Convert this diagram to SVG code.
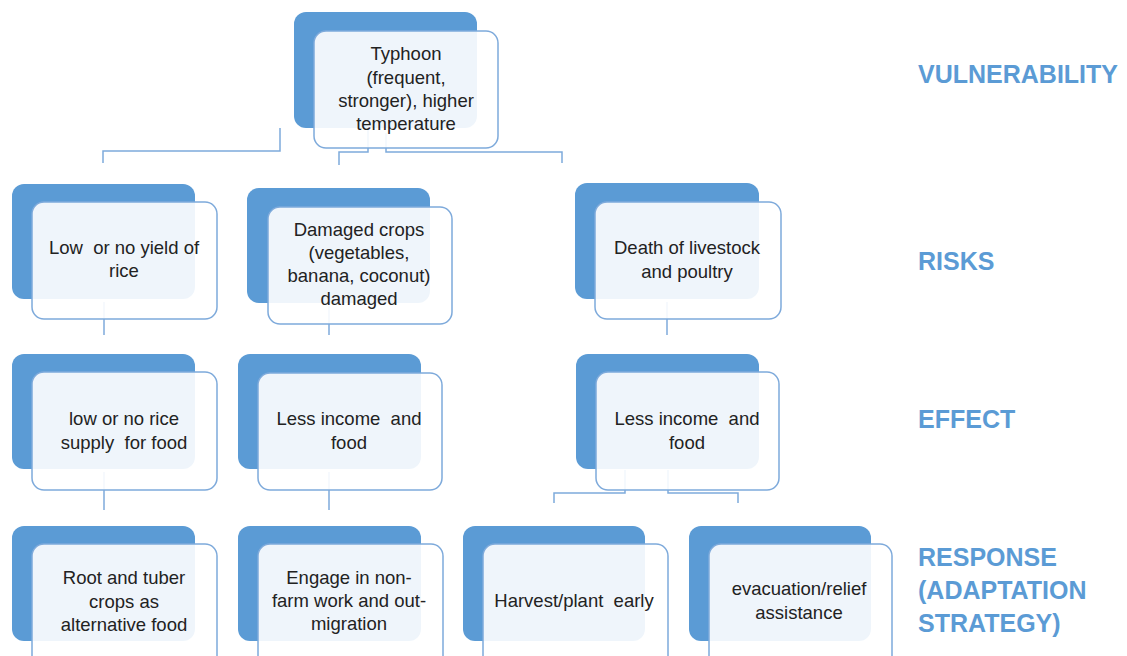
<svg xmlns="http://www.w3.org/2000/svg" width="1127" height="656" viewBox="0 0 1127 656" xml:space="preserve">
<style>
.back{fill:#5B9BD5;}
.front{fill:#FFFFFF;fill-opacity:0.9;stroke:#7EAADB;stroke-width:1.5;}
.t{font-family:"Liberation Sans",Arial,sans-serif;font-size:18.5px;fill:#222222;text-anchor:middle;white-space:pre;}
.lbl{font-family:"Liberation Sans",Arial,sans-serif;font-size:25px;font-weight:bold;fill:#5B9BD5;}
.c{fill:none;stroke:#7EAADB;stroke-width:1.5;}
</style>
<rect width="1127" height="656" fill="#FFFFFF"/>
<g id="connectors">
<path class="c" d="M280,128 V151 H103 V163"/>
<path class="c" d="M368,130 V152 H339 V165"/>
<path class="c" d="M386,133 V152 H562 V163"/>
<path class="c" d="M104,302 V335"/>
<path class="c" d="M329,306 V335"/>
<path class="c" d="M667,302 V335"/>
<path class="c" d="M104,472 V510"/>
<path class="c" d="M329,472 V510"/>
<path class="c" d="M625,470 V493 H554 V503"/>
<path class="c" d="M668,470 V493 H738 V503"/>
</g>
<g id="n-typhoon">
<rect class="back" x="294" y="12" width="183" height="116" rx="12"/>
<rect class="front" x="314" y="31" width="184" height="117" rx="12"/>
<text class="t" x="406" y="60">Typhoon</text>
<text class="t" x="406" y="84">(frequent,</text>
<text class="t" x="406" y="107">stronger), higher</text>
<text class="t" x="406" y="130">temperature</text>
</g>
<g id="n-lowyield">
<rect class="back" x="12" y="184" width="183" height="115" rx="12"/>
<rect class="front" x="32" y="202" width="185" height="117" rx="12"/>
<text class="t" x="124" y="254">Low  or no yield of</text>
<text class="t" x="124" y="277">rice</text>
</g>
<g id="n-damaged">
<rect class="back" x="247" y="188" width="183" height="115" rx="12"/>
<rect class="front" x="268" y="207" width="184" height="117" rx="12"/>
<text class="t" x="359" y="236">Damaged crops</text>
<text class="t" x="359" y="259">(vegetables,</text>
<text class="t" x="359" y="282">banana, coconut)</text>
<text class="t" x="359" y="305">damaged</text>
</g>
<g id="n-livestock">
<rect class="back" x="575" y="183" width="184" height="116" rx="12"/>
<rect class="front" x="595" y="202" width="186" height="117" rx="12"/>
<text class="t" x="687" y="254">Death of livestock</text>
<text class="t" x="687" y="278">and poultry</text>
</g>
<g id="n-ricesupply">
<rect class="back" x="12" y="354" width="183" height="115" rx="12"/>
<rect class="front" x="32" y="372" width="185" height="118" rx="12"/>
<text class="t" x="124" y="425">low or no rice</text>
<text class="t" x="124" y="449">supply  for food</text>
</g>
<g id="n-income1">
<rect class="back" x="238" y="354" width="183" height="115" rx="12"/>
<rect class="front" x="258" y="373" width="184" height="117" rx="12"/>
<text class="t" x="349" y="425">Less income  and</text>
<text class="t" x="349" y="449">food</text>
</g>
<g id="n-income2">
<rect class="back" x="576" y="354" width="183" height="115" rx="12"/>
<rect class="front" x="596" y="372" width="183" height="118" rx="12"/>
<text class="t" x="687" y="425">Less income  and</text>
<text class="t" x="687" y="449">food</text>
</g>
<g id="n-root">
<rect class="back" x="12" y="526" width="183" height="115" rx="12"/>
<rect class="front" x="32" y="544" width="185" height="125" rx="12"/>
<text class="t" x="124" y="584">Root and tuber</text>
<text class="t" x="124" y="608">crops as</text>
<text class="t" x="124" y="631">alternative food</text>
</g>
<g id="n-nonfarm">
<rect class="back" x="238" y="526" width="183" height="115" rx="12"/>
<rect class="front" x="258" y="544" width="185" height="125" rx="12"/>
<text class="t" x="349" y="584">Engage in non-</text>
<text class="t" x="349" y="607">farm work and out-</text>
<text class="t" x="349" y="630">migration</text>
</g>
<g id="n-harvest">
<rect class="back" x="463" y="526" width="182" height="115" rx="12"/>
<rect class="front" x="483" y="544" width="185" height="125" rx="12"/>
<text class="t" x="574" y="607">Harvest/plant  early</text>
</g>
<g id="n-evac">
<rect class="back" x="689" y="526" width="182" height="115" rx="12"/>
<rect class="front" x="709" y="544" width="183" height="125" rx="12"/>
<text class="t" x="799" y="595">evacuation/relief</text>
<text class="t" x="799" y="619">assistance</text>
</g>
<g id="labels">
<text class="lbl" x="918" y="83">VULNERABILITY</text>
<text class="lbl" x="918" y="270">RISKS</text>
<text class="lbl" x="918" y="428">EFFECT</text>
<text class="lbl" x="918" y="566">RESPONSE</text>
<text class="lbl" x="918" y="599">(ADAPTATION</text>
<text class="lbl" x="918" y="632">STRATEGY)</text>
</g>
</svg>
